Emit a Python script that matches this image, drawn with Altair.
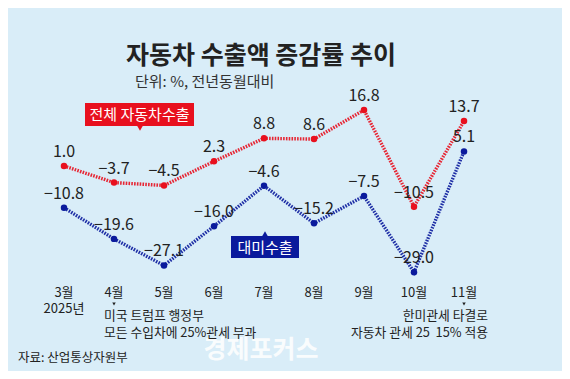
import altair as alt
import pandas as pd

months = ["3월", "4월", "5월", "6월", "7월", "8월", "9월", "10월", "11월"]
total_export = [1.0, -3.7, -4.5, 2.3, 8.8, 8.6, 16.8, -10.5, 13.7]
us_export = [-10.8, -19.6, -27.1, -16.0, -4.6, -15.2, -7.5, -29.0, 5.1]
series_names = ["전체 자동차수출", "대미수출"]

title_text = "자동차 수출액 증감률 추이"
subtitle_text = "단위: %, 전년동월대비"
source_text = "자료: 산업통상자원부"
year_text = "2025년"
note_left = ["미국 트럼프 행정부", "모든 수입차에 25%관세 부과"]
note_right = ["한미관세 타결로", "자동차 관세 25\u00a0\u00a015% 적용"]
note_months = [1, 8]
watermark = "경제포커스"

FONT = "Noto Sans CJK KR"
RED = "#E8101E"
BLUE = "#0A1A9C"
BG = "#D9EDF8"

rows = []
for i, m in enumerate(months):
    rows.append({"idx": i, "month": m, "value": total_export[i], "series": series_names[0]})
    rows.append({"idx": i, "month": m, "value": us_export[i], "series": series_names[1]})
df = pd.DataFrame(rows)
df["label"] = df["value"].map(lambda v: f"{v:.1f}".replace("-", "−"))

mdf = pd.DataFrame({"idx": list(range(len(months))), "month": months})

xs = alt.Scale(domain=[0, 8], range=[56, 456])
ys = alt.Scale(domain=[-30, 20], range=[267.7, 90.7])
X = alt.X("idx:Q", scale=xs, axis=None)
Y = alt.Y("value:Q", scale=ys, axis=None)
color = alt.Color("series:N", scale=alt.Scale(domain=series_names, range=[RED, BLUE]), legend=None)

base = alt.Chart(df)

lines = base.mark_line(strokeWidth=3.4, strokeDash=[1.6, 1.2], opacity=0.9).encode(
    x=X, y=Y, color=color, detail="series:N")
points = base.mark_circle(size=42, opacity=1).encode(x=X, y=Y, color=color)
labels = base.mark_text(font=FONT, fontSize=16, color="#222", dy=-14, baseline="middle").encode(
    x=X, y=Y, text="label:N")

mlabels = alt.Chart(mdf).mark_text(font=FONT, fontSize=13, color="#222", baseline="middle").encode(
    x=alt.X("idx:Q", scale=xs, axis=None), y=alt.value(285), text="month:N")

year = alt.Chart(pd.DataFrame({"idx": [0], "t": [year_text]})).mark_text(
    font=FONT, fontSize=13, color="#222", baseline="middle").encode(
    x=alt.X("idx:Q", scale=xs, axis=None), y=alt.value(301), text="t:N")

tri = alt.Chart(pd.DataFrame({"idx": note_months})).mark_point(
    shape="triangle-down", filled=True, size=12, color="#222", opacity=1).encode(
    x=alt.X("idx:Q", scale=xs, axis=None), y=alt.value(296))

def txt(t, x, y, size=13, align="left", color="#222", weight="normal", opacity=1.0):
    return alt.Chart(pd.DataFrame({"t": [t]})).mark_text(
        font=FONT, fontSize=size, align=align, baseline="middle", color=color,
        fontWeight=weight, opacity=opacity).encode(
        x=alt.value(x), y=alt.value(y), text="t:N")

def box(x1, x2, y1, y2, fill):
    return alt.Chart(pd.DataFrame({"a": [0]})).mark_rect(color=fill).encode(
        x=alt.value(x1), x2=alt.value(x2), y=alt.value(y1), y2=alt.value(y2))

def pointer(x, y, shape, fill):
    return alt.Chart(pd.DataFrame({"a": [0]})).mark_point(
        shape=shape, filled=True, size=40, color=fill, opacity=1).encode(
        x=alt.value(x), y=alt.value(y))

layers = [
    lines, points, labels, mlabels, year, tri,
    txt(title_text, 253, 48, size=25, align="center", color="#222", weight="bold"),
    txt(subtitle_text, 127, 74, size=15, color="#333"),
    box(77, 186, 95, 118, RED),
    pointer(132, 120, "triangle-down", RED),
    txt(series_names[0], 131.5, 107, size=15, align="center", color="white"),
    box(223, 291, 228, 250, BLUE),
    pointer(257, 226, "triangle-up", BLUE),
    txt(series_names[1], 257, 239.5, size=15, align="center", color="white"),
    txt(watermark, 253, 342, size=25, align="center", color="white", weight="bold", opacity=0.85),
    txt(note_left[0], 96, 308, size=12.8),
    txt(note_left[1], 96, 325, size=12.8),
    txt(note_right[0], 480, 308, size=12.8, align="right"),
    txt(note_right[1], 480, 325, size=12.8, align="right"),
    txt(source_text, 10, 350, size=12.5),
]

chart = alt.layer(*layers).properties(
    width=554, height=363, background=BG,
    padding=0, autosize=alt.AutoSizeParams(type="none"),
).configure_view(stroke=None)

chart.save("out.html", embed_options={"renderer": "svg", "actions": False})
